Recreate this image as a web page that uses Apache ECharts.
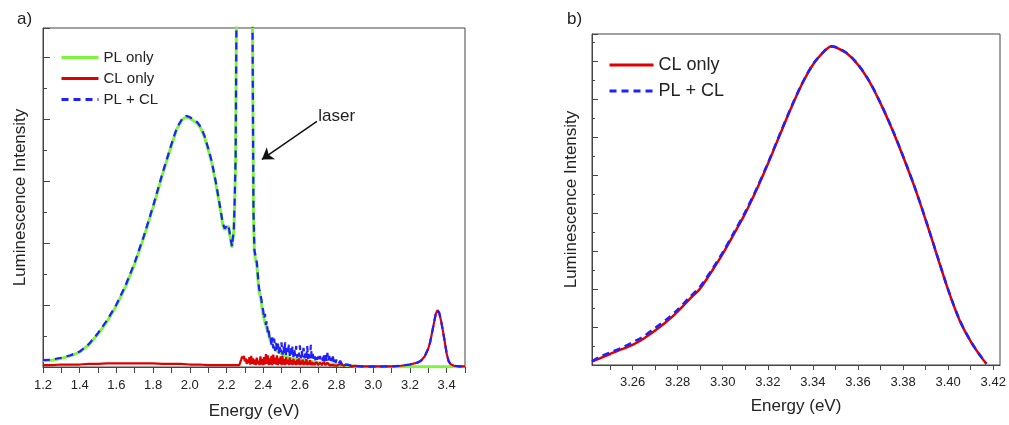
<!DOCTYPE html>
<html><head><meta charset="utf-8">
<script src="https://cdn.jsdelivr.net/npm/echarts@6/dist/echarts.min.js"></script>
<style>html,body{margin:0;padding:0;background:#fff}#c{width:1009px;height:425px}</style>
</head><body><div id="c"></div>
<script>
// ---------- Panel a) data: [energy (eV), intensity (a.u.)] ----------
const plOnly = [
[1.20,0.10],[1.25,0.11],[1.30,0.14],[1.35,0.18],[1.40,0.24],[1.45,0.36],[1.50,0.53],[1.55,0.74],[1.60,0.99],[1.65,1.30],
[1.70,1.67],[1.75,2.10],[1.80,2.58],[1.85,3.10],[1.90,3.58],[1.93,3.85],[1.96,4.00],[1.98,4.04],[2.00,4.02],[2.02,3.98],
[2.04,3.94],[2.06,3.86],[2.08,3.72],[2.10,3.52],[2.12,3.30],[2.14,3.00],[2.16,2.66],[2.18,2.30],[2.19,2.22],[2.20,2.24],
[2.21,2.28],[2.22,2.10],[2.23,1.93],[2.24,2.20],[2.245,2.70],[2.25,3.40],[2.255,6.0],[2.26,9.0],[2.30,30],[2.335,9.0],
[2.342,5.5],[2.347,2.5],[2.352,1.85],[2.358,1.75],[2.366,1.63],[2.372,1.40],[2.378,1.22],[2.384,1.15],[2.39,1.05],[2.395,0.92],
[2.40,0.84],[2.41,0.72],[2.42,0.62],[2.43,0.52],[2.44,0.42],[2.45,0.36],[2.46,0.31],[2.47,0.27],[2.48,0.25],[2.49,0.23],
[2.50,0.21],[2.52,0.18],[2.54,0.15],[2.56,0.13],[2.58,0.13],[2.60,0.11],[2.62,0.11],[2.64,0.10],[2.66,0.09],[2.68,0.08],
[2.70,0.07],[2.72,0.07],[2.74,0.06],[2.76,0.05],[2.78,0.05],[2.80,0.04],[2.84,0.03],[2.88,0.02],[2.92,0.01],[3.00,0.005],
[3.20,0.003],[3.50,0.003]
];
const clOnly = [
[1.20,0.03],[1.25,0.03],[1.30,0.04],[1.35,0.04],[1.40,0.04],[1.45,0.05],[1.50,0.05],[1.55,0.06],[1.60,0.06],[1.65,0.06],
[1.70,0.06],[1.75,0.06],[1.80,0.06],[1.85,0.05],[1.90,0.05],[1.95,0.05],[2.00,0.04],[2.05,0.04],[2.10,0.03],[2.15,0.03],
[2.20,0.03],[2.25,0.03],[2.27,0.03],[2.28,0.12],[2.285,0.17],[2.29,0.13],[2.295,0.18],[2.30,0.09],[2.305,0.14],[2.31,0.05],
[2.315,0.12],[2.32,0.06],[2.325,0.16],[2.33,0.04],[2.335,0.18],[2.34,0.05],[2.345,0.14],[2.35,0.04],[2.355,0.12],[2.36,0.03],
[2.365,0.15],[2.37,0.05],[2.375,0.10],[2.38,0.03],[2.385,0.17],[2.39,0.04],[2.395,0.13],[2.40,0.03],[2.405,0.16],[2.41,0.04],
[2.415,0.21],[2.42,0.05],[2.425,0.19],[2.43,0.03],[2.435,0.14],[2.44,0.04],[2.445,0.18],[2.45,0.03],[2.455,0.20],[2.46,0.05],
[2.465,0.15],[2.47,0.04],[2.475,0.19],[2.48,0.03],[2.485,0.14],[2.49,0.05],[2.495,0.17],[2.50,0.03],[2.505,0.18],[2.51,0.04],
[2.515,0.13],[2.52,0.03],[2.525,0.16],[2.53,0.05],[2.535,0.12],[2.54,0.03],[2.545,0.15],[2.55,0.04],[2.555,0.11],[2.56,0.03],
[2.565,0.13],[2.57,0.04],[2.575,0.10],[2.58,0.03],[2.585,0.12],[2.59,0.04],[2.595,0.14],[2.60,0.03],[2.605,0.10],[2.61,0.04],
[2.615,0.12],[2.62,0.03],[2.625,0.09],[2.63,0.04],[2.635,0.13],[2.64,0.03],[2.645,0.08],[2.65,0.04],[2.655,0.11],[2.66,0.03],
[2.665,0.08],[2.67,0.03],[2.675,0.07],[2.68,0.03],[2.69,0.08],[2.70,0.03],[2.71,0.07],[2.72,0.03],[2.73,0.08],[2.74,0.03],
[2.75,0.07],[2.76,0.03],[2.77,0.06],[2.78,0.03],[2.79,0.06],[2.80,0.02],[2.82,0.05],[2.84,0.02],[2.86,0.04],[2.88,0.01],
[2.90,0.02],[2.95,0.01],[3.00,0.01],[3.05,0.01],[3.10,0.01],[3.15,0.02],[3.20,0.04],[3.24,0.07],[3.26,0.10],[3.28,0.17],
[3.30,0.30],[3.31,0.40],[3.32,0.55],[3.33,0.70],[3.34,0.85],[3.35,0.92],[3.36,0.87],[3.37,0.74],[3.38,0.58],[3.39,0.40],
[3.40,0.22],[3.41,0.10],[3.42,0.05],[3.44,0.02],[3.47,0.01],[3.50,0.01]
];
const plPlusCl = [
[1.20,0.11],[1.25,0.12],[1.30,0.15],[1.35,0.19],[1.40,0.25],[1.45,0.37],[1.50,0.55],[1.55,0.76],[1.60,1.01],[1.65,1.32],
[1.70,1.69],[1.75,2.12],[1.80,2.60],[1.85,3.12],[1.90,3.60],[1.93,3.87],[1.96,4.02],[1.98,4.06],[2.00,4.04],[2.02,4.00],
[2.04,3.96],[2.06,3.88],[2.08,3.74],[2.10,3.54],[2.12,3.32],[2.14,3.02],[2.16,2.68],[2.18,2.32],[2.19,2.24],[2.20,2.26],
[2.21,2.30],[2.22,2.12],[2.23,1.95],[2.24,2.22],[2.245,2.72],[2.25,3.42],[2.255,6.0],[2.26,9.0],[2.30,30],[2.335,9.0],
[2.342,5.5],[2.347,2.55],[2.352,1.90],[2.358,1.80],[2.366,1.68],[2.372,1.45],[2.378,1.26],[2.384,1.20],[2.39,1.10],[2.395,0.98],
[2.40,0.92],[2.405,0.78],[2.41,0.86],[2.415,0.68],[2.42,0.74],[2.425,0.56],[2.43,0.62],[2.435,0.46],[2.44,0.50],[2.445,0.34],
[2.45,0.48],[2.455,0.30],[2.46,0.46],[2.465,0.26],[2.47,0.40],[2.475,0.27],[2.48,0.38],[2.485,0.22],[2.49,0.36],[2.495,0.24],
[2.50,0.40],[2.505,0.20],[2.51,0.34],[2.515,0.22],[2.52,0.40],[2.525,0.19],[2.53,0.31],[2.535,0.21],[2.54,0.36],[2.545,0.18],
[2.55,0.30],[2.555,0.17],[2.56,0.33],[2.565,0.16],[2.57,0.27],[2.575,0.18],[2.58,0.34],[2.585,0.15],[2.59,0.25],[2.595,0.17],
[2.60,0.35],[2.605,0.14],[2.61,0.27],[2.615,0.16],[2.62,0.31],[2.625,0.14],[2.63,0.23],[2.635,0.15],[2.64,0.34],[2.645,0.13],
[2.65,0.25],[2.655,0.14],[2.66,0.36],[2.665,0.12],[2.67,0.21],[2.675,0.13],[2.68,0.19],[2.685,0.11],[2.69,0.20],[2.695,0.12],
[2.70,0.17],[2.705,0.10],[2.71,0.18],[2.715,0.11],[2.72,0.16],[2.725,0.10],[2.73,0.22],[2.735,0.09],[2.74,0.19],[2.745,0.10],
[2.75,0.23],[2.755,0.09],[2.76,0.18],[2.765,0.08],[2.77,0.15],[2.775,0.08],[2.78,0.17],[2.785,0.07],[2.79,0.13],[2.795,0.07],
[2.80,0.12],[2.81,0.05],[2.82,0.10],[2.83,0.04],[2.84,0.08],[2.85,0.04],[2.86,0.07],[2.87,0.03],[2.88,0.05],[2.89,0.02],
[2.90,0.03],[2.92,0.01],[2.95,0.005],[3.00,0.005],[3.05,0.008],[3.10,0.01],[3.15,0.02],[3.20,0.04],[3.24,0.07],[3.26,0.10],
[3.28,0.17],[3.30,0.30],[3.31,0.40],[3.32,0.55],[3.33,0.70],[3.34,0.85],[3.35,0.92],[3.36,0.87],[3.37,0.74],[3.38,0.58],
[3.39,0.40],[3.40,0.22],[3.41,0.10],[3.42,0.05],[3.44,0.02],[3.47,0.01],[3.50,0.01]
];
const xLabelsA = [1.2,1.4,1.6,1.8,2.0,2.2,2.4,2.6,2.8,3.0,3.2,3.4];

// ---------- Panel b) data ----------
const clOnlyB = [
[3.242,0.09],[3.245,0.16],[3.250,0.29],[3.255,0.41],[3.260,0.53],[3.265,0.70],[3.270,0.91],[3.275,1.14],[3.280,1.41],[3.285,1.72],
[3.290,2.02],[3.295,2.46],[3.300,2.93],[3.305,3.46],[3.310,4.00],[3.315,4.62],[3.320,5.30],[3.325,6.02],[3.330,6.73],[3.335,7.39],
[3.340,7.92],[3.345,8.27],[3.348,8.40],[3.350,8.38],[3.355,8.22],[3.360,7.92],[3.365,7.48],[3.370,6.90],[3.375,6.24],[3.380,5.50],
[3.385,4.71],[3.390,3.83],[3.395,2.90],[3.400,1.98],[3.405,1.19],[3.410,0.62],[3.414,0.26],[3.417,0.03]
];
const plPlusClB = [
[3.242,0.10],[3.245,0.20],[3.250,0.33],[3.255,0.45],[3.260,0.60],[3.265,0.76],[3.270,0.98],[3.275,1.20],[3.280,1.46],[3.285,1.77],
[3.290,2.07],[3.295,2.50],[3.300,2.97],[3.305,3.50],[3.310,4.04],[3.315,4.65],[3.320,5.32],[3.325,6.04],[3.330,6.75],[3.335,7.40],
[3.340,7.93],[3.345,8.28],[3.348,8.41],[3.350,8.39],[3.355,8.23],[3.360,7.93],[3.365,7.49],[3.370,6.91],[3.375,6.25],[3.380,5.51],
[3.385,4.72],[3.390,3.84],[3.395,2.91],[3.400,1.99],[3.405,1.20],[3.410,0.63],[3.414,0.27],[3.417,0.03]
];
const xTicksB = [3.25,3.26,3.27,3.28,3.29,3.30,3.31,3.32,3.33,3.34,3.35,3.36,3.37,3.38,3.39,3.40,3.41,3.42];
const xLabelsB = [3.26,3.28,3.30,3.32,3.34,3.36,3.38,3.40,3.42];

const FONT = 'Liberation Sans, Arial, sans-serif';
const AX = '#444';
const TXT = '#222';
const GREEN = '#7df53c', RED = '#e00000', BLUE = '#1f1fff';

const chart = echarts.init(document.getElementById('c'), null, {renderer:'canvas'});
const axLine = {show:true, lineStyle:{color:AX, width:1}};

chart.setOption({
  animation:false,
  textStyle:{fontFamily:FONT},
  grid:[
    {left:43, top:28, width:422, height:340, show:true, borderColor:AX, borderWidth:1},
    {left:592, top:34, width:408, height:331, show:true, borderColor:AX, borderWidth:1}
  ],
  xAxis:[
    {type:'value', gridIndex:0, min:1.2, max:3.5, interval:0.1,
     axisLine:axLine, axisTick:{show:true, length:6, lineStyle:{color:AX}},
     axisLabel:{customValues:xLabelsA, formatter:v=>v.toFixed(1), fontSize:13, color:TXT, margin:12, fontFamily:FONT},
     splitLine:{show:false},
     name:'Energy (eV)', nameLocation:'middle', nameGap:36, nameTextStyle:{fontSize:17, color:TXT, fontFamily:FONT}},
    {type:'value', gridIndex:1, min:3.242, max:3.423,
     axisLine:axLine, axisTick:{show:true, customValues:xTicksB, length:5, lineStyle:{color:AX}},
     axisLabel:{customValues:xLabelsB, formatter:v=>v.toFixed(2), fontSize:13, color:TXT, margin:11, fontFamily:FONT},
     splitLine:{show:false},
     name:'Energy (eV)', nameLocation:'middle', nameGap:33, nameTextStyle:{fontSize:17, color:TXT, fontFamily:FONT}}
  ],
  yAxis:[
    {type:'value', gridIndex:0, min:0, max:5.48, interval:1,
     axisLine:axLine, axisTick:{show:true, inside:true, length:7, lineStyle:{color:AX}},
     minorTick:{show:true, splitNumber:2, length:4, lineStyle:{color:AX}},
     axisLabel:{show:false}, splitLine:{show:false}, minorSplitLine:{show:false},
     name:'Luminescence Intensity', nameLocation:'middle', nameGap:14, nameTextStyle:{fontSize:17, color:TXT, fontFamily:FONT}},
    {type:'value', gridIndex:1, min:0, max:8.73, interval:1,
     axisLine:axLine, axisTick:{show:true, inside:true, length:6, lineStyle:{color:AX}},
     minorTick:{show:true, splitNumber:2, length:3, lineStyle:{color:AX}},
     axisLabel:{show:false}, splitLine:{show:false}, minorSplitLine:{show:false},
     name:'Luminescence Intensity', nameLocation:'middle', nameGap:12, nameTextStyle:{fontSize:17, color:TXT, fontFamily:FONT}}
  ],
  legend:[
    {orient:'vertical', left:60, top:50, itemWidth:37, itemHeight:14, itemGap:6, padding:0,
     itemStyle:{opacity:0}, lineStyle:{width:3},
     data:['PL only','CL only','PL + CL'], textStyle:{fontSize:15, color:TXT, fontFamily:FONT}, selectedMode:false},
    {orient:'vertical', left:608, top:56, itemWidth:44, itemHeight:16, itemGap:8, padding:0,
     itemStyle:{opacity:0}, lineStyle:{width:3},
     data:['CL only','PL + CL'], textStyle:{fontSize:18, color:TXT, fontFamily:FONT}, selectedMode:false}
  ],
  graphic:[
    {type:'text', left:17, top:11, style:{text:'a)', fontSize:17, fill:TXT, fontFamily:FONT}},
    {type:'text', left:567, top:11, style:{text:'b)', fontSize:17, fill:TXT, fontFamily:FONT}}
  ],
  series:[
    {name:'PL only', type:'line', xAxisIndex:0, yAxisIndex:0, data:plOnly, symbol:'none', z:2,
     lineStyle:{color:GREEN, width:3}, itemStyle:{color:GREEN},
     markLine:{silent:true, symbol:['none','arrow'], symbolSize:11, animation:false,
       lineStyle:{color:'#111', width:1.5, type:'solid'}, label:{show:false},
       data:[[{coord:[2.693,3.97]},{coord:[2.393,3.355]}]]},
     markPoint:{silent:true, symbol:'circle', symbolSize:0, animation:false,
       label:{show:true, position:'right', distance:0, formatter:'laser', fontSize:17, color:TXT, fontFamily:FONT},
       data:[{coord:[2.70,4.05]}]}},
    {name:'CL only', type:'line', xAxisIndex:0, yAxisIndex:0, data:clOnly, symbol:'none', z:3,
     lineStyle:{color:RED, width:2.2}, itemStyle:{color:RED}},
    {name:'PL + CL', type:'line', xAxisIndex:0, yAxisIndex:0, data:plPlusCl, symbol:'none', z:4,
     lineStyle:{color:BLUE, width:2.2, type:[7,5]}, itemStyle:{color:BLUE}},
    {name:'CL only', type:'line', xAxisIndex:1, yAxisIndex:1, data:clOnlyB, symbol:'none', z:3, smooth:0.3,
     lineStyle:{color:RED, width:2.5}, itemStyle:{color:RED}},
    {name:'PL + CL', type:'line', xAxisIndex:1, yAxisIndex:1, data:plPlusClB, symbol:'none', z:4, smooth:0.3,
     lineStyle:{color:BLUE, width:2.5, type:[7,5]}, itemStyle:{color:BLUE}}
  ]
});
</script></body></html>
